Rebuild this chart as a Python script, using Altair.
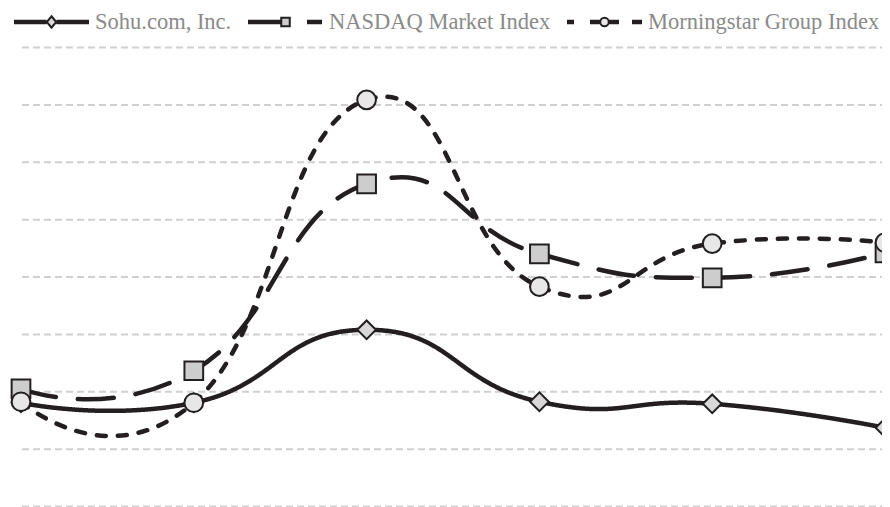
import altair as alt
import pandas as pd

# ---- data ----
periods = [0, 1, 2, 3, 4, 5]
series_names = ["Sohu.com, Inc.", "NASDAQ Market Index", "Morningstar Group Index"]
sohu = [90.4, 90.4, 154.0, 91.3, 89.5, 68.6]
nasdaq = [102.6, 118.3, 281.2, 220.2, 199.3, 221.1]
morningstar = [91.3, 90.4, 354.4, 191.6, 229.1, 230.0]
grid_values = [0, 50, 100, 150, 200, 250, 300, 350, 400]

# ---- styles ----
INK = "#231f20"
marker_shapes = ["diamond", "square", "circle"]
marker_fills = ["#d8d8d8", "#cdcdcd", "#e7e7e7"]
dash_styles = [[1, 0], [36, 22], [9, 12]]


def thick(segs):
    out = []
    for a, b in segs:
        for yy in (-0.1, -0.05, 0, 0.05, 0.1):
            out.append(f"M{a},{yy}H{b}")
    return "".join(out)


legend_paths = [
    thick([(-1, 1.6), (2.4, 5)]) + "M2,-0.46L2.38,0L2,0.46L1.62,0Z",
    thick([(-1, 1.66), (3.72, 4.92)]) + "M1.66,-0.34H2.34V0.34H1.66Z",
    thick([(-1, -0.44), (0.84, 1.66), (2.34, 3.16), (4.2, 5)])
    + "M2.34,0A0.34,0.34 0 1,1 1.66,0A0.34,0.34 0 1,1 2.34,0Z",
]

rows = []
for name, vals in zip(series_names, [sohu, nasdaq, morningstar]):
    for p, v in zip(periods, vals):
        rows.append({"idx": p, "value": v, "series": name})
df = pd.DataFrame(rows)
grid_df = pd.DataFrame({"g": grid_values})

x_scale = alt.Scale(domain=[0, 5], range=[0, 864], nice=False, zero=False)
x_enc = alt.X("idx:Q", scale=x_scale, axis=None)
y_scale = alt.Scale(domain=[0, 400], nice=False, zero=False)
y_enc = alt.Y("value:Q", scale=y_scale, axis=None)

grid = alt.Chart(grid_df).mark_rule(
    color="#d0d0d0", strokeWidth=2, strokeDash=[7, 4]
).encode(
    y=alt.Y("g:Q", scale=y_scale, axis=None),
    x=alt.value(1),
    x2=alt.value(880),
)

line_layers = []
point_layers = []
for name, shp, fil, dsh in zip(series_names, marker_shapes, marker_fills, dash_styles):
    base = alt.Chart(df).transform_filter(alt.datum.series == name)
    line_layers.append(
        base.mark_line(
            interpolate="cardinal", tension=-0.5, color=INK, strokeWidth=4.5,
            strokeCap="round", strokeDash=dsh,
        ).encode(x=x_enc, y=y_enc)
    )
    point_layers.append(
        base.mark_point(shape=shp, filled=True, fill=fil, stroke=INK, strokeWidth=2,
                        size=350, opacity=1)
        .encode(x=x_enc, y=y_enc)
    )

leg = alt.Legend(
    title=None, orient="none", legendX=-8, legendY=-39, direction="horizontal",
    labelFont="Liberation Serif", labelFontSize=22.5, labelColor="#8a8a8a",
    labelLimit=400, symbolSize=625, symbolStrokeWidth=2, symbolStrokeColor=INK,
    symbolOpacity=1, labelOffset=55, columnPadding=12,
)

legend_layer = alt.Chart(df).transform_filter("false").mark_point(
    filled=True, stroke=INK, strokeWidth=2, opacity=1
).encode(
    x=x_enc,
    y=y_enc,
    shape=alt.Shape(
        "series:N", scale=alt.Scale(domain=series_names, range=legend_paths), legend=leg
    ),
    fill=alt.Fill(
        "series:N", scale=alt.Scale(domain=series_names, range=marker_fills), legend=leg
    ),
    stroke=alt.Stroke(
        "series:N", scale=alt.Scale(domain=series_names, range=[INK, INK, INK]), legend=leg
    ),
)

chart = alt.layer(grid, *line_layers, *point_layers, legend_layer).properties(
    width=861,
    height=459,
    autosize=alt.AutoSizeParams(type="none"),
    padding={"left": 13, "top": 39.5, "right": 0, "bottom": 4},
    background="white",
).configure_view(stroke=None)

chart.save("out.html", embed_options={"renderer": "svg", "actions": False})
